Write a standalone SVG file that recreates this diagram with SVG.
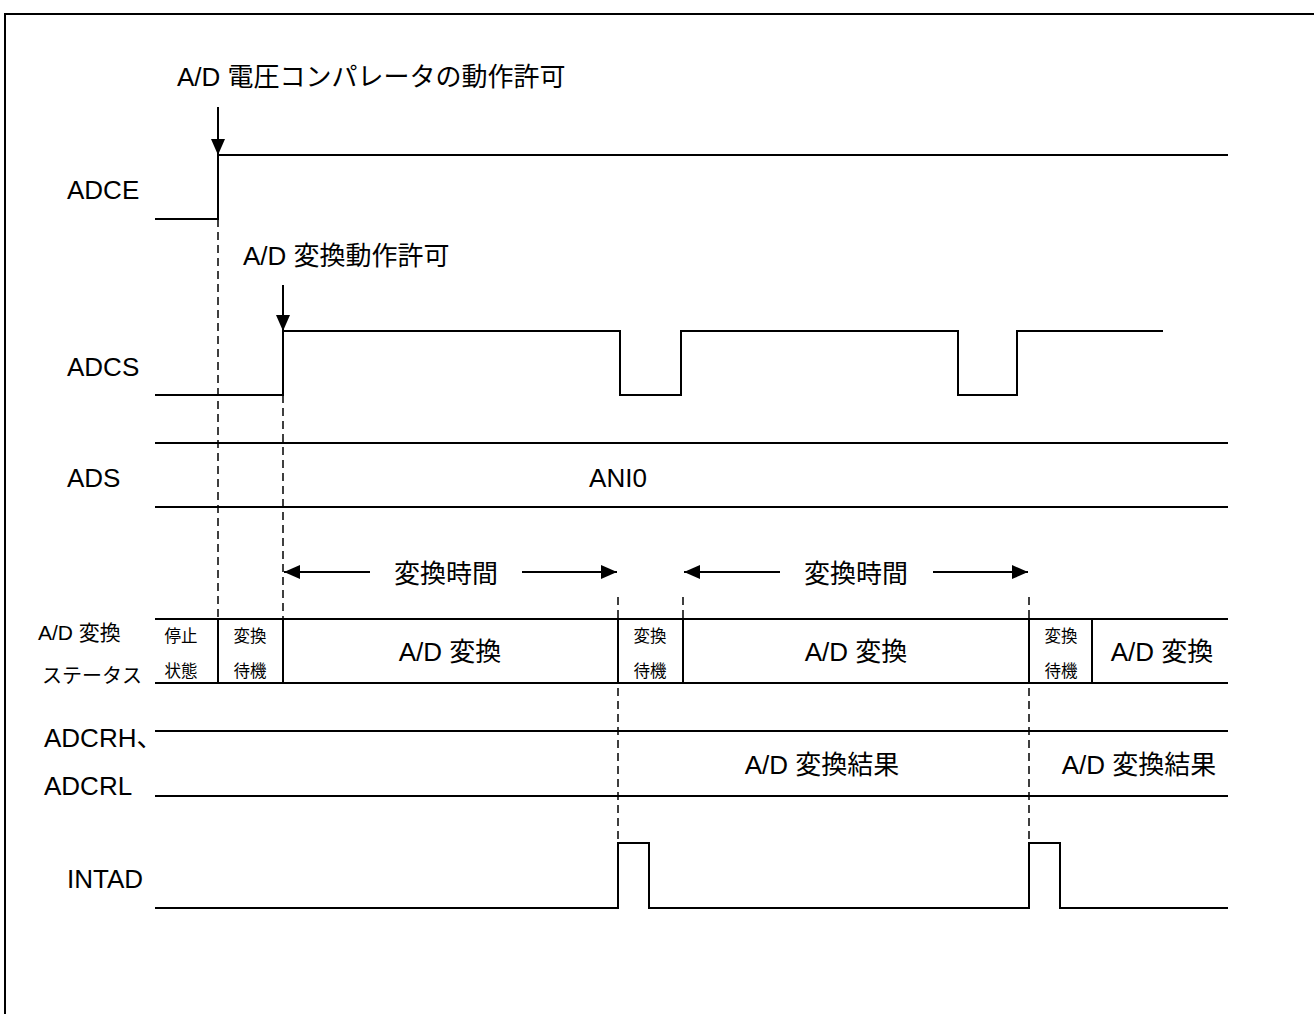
<svg xmlns="http://www.w3.org/2000/svg" width="1314" height="1014" viewBox="0 0 1314 1014">
<defs>
<style>
.w{fill:none;stroke:#000;stroke-width:2}
.d{fill:none;stroke:#000;stroke-width:1.5;stroke-dasharray:8,5}
.t{font-family:"Liberation Sans","Noto Sans CJK JP",sans-serif;fill:#000}
.L{font-size:26px}
.M{font-size:26px}
.S{font-size:16.5px}
</style>
<marker id="ah" viewBox="0 0 10 10" refX="10" refY="5" markerWidth="16" markerHeight="14" markerUnits="userSpaceOnUse" orient="auto" preserveAspectRatio="none">
<path d="M0,0 L10,5 L0,10 Z" fill="#000"/>
</marker>
</defs>
<rect width="1314" height="1014" fill="#fff"/>
<path d="M5,1014 V14 H1314" fill="none" stroke="#000" stroke-width="2"/>

<g id="connectors">
<line class="d" x1="218" y1="219" x2="218" y2="619"/>
<line class="d" x1="283" y1="395" x2="283" y2="619"/>
<line class="d" x1="618" y1="597" x2="618" y2="843"/>
<line class="d" x1="683" y1="597" x2="683" y2="619"/>
<line class="d" x1="1029" y1="597" x2="1029" y2="843"/>
<line class="w" x1="218" y1="107" x2="218" y2="155" marker-end="url(#ah)"/>
<line class="w" x1="283" y1="285" x2="283" y2="331" marker-end="url(#ah)"/>
<line class="w" x1="370" y1="572" x2="284" y2="572" marker-end="url(#ah)"/>
<line class="w" x1="522" y1="572" x2="617" y2="572" marker-end="url(#ah)"/>
<line class="w" x1="780" y1="572" x2="684" y2="572" marker-end="url(#ah)"/>
<line class="w" x1="933" y1="572" x2="1028" y2="572" marker-end="url(#ah)"/>
</g>

<g id="title">
<text class="t L" x="177" y="86">A/D 電圧コンパレータの動作許可</text>
<text class="t L" x="243" y="265">A/D 変換動作許可</text>
</g>

<g id="ADCE">
<text class="t L" x="67" y="199">ADCE</text>
<polyline class="w" points="155,219 218,219 218,155 1228,155"/>
</g>

<g id="ADCS">
<text class="t L" x="67" y="376">ADCS</text>
<polyline class="w" points="155,395 283,395 283,331 620,331 620,395 681,395 681,331 958,331 958,395 1017,395 1017,331 1163,331"/>
</g>

<g id="ADS">
<text class="t L" x="67" y="487">ADS</text>
<line class="w" x1="155" y1="443" x2="1228" y2="443"/>
<line class="w" x1="155" y1="507" x2="1228" y2="507"/>
<text class="t L" x="618" y="487" text-anchor="middle">ANI0</text>
</g>

<g id="time-labels">
<text class="t L" x="446" y="583" text-anchor="middle">変換時間</text>
<text class="t L" x="856" y="583" text-anchor="middle">変換時間</text>
</g>

<g id="status">
<text class="t" x="38" y="640" style="font-size:21px">A/D 変換</text>
<text class="t" x="42" y="683" style="font-size:20px">ステータス</text>
<line class="w" x1="155" y1="619" x2="1228" y2="619"/>
<line class="w" x1="155" y1="683" x2="1228" y2="683"/>
<line class="w" x1="218" y1="619" x2="218" y2="683"/>
<line class="w" x1="283" y1="619" x2="283" y2="683"/>
<line class="w" x1="618" y1="619" x2="618" y2="683"/>
<line class="w" x1="683" y1="619" x2="683" y2="683"/>
<line class="w" x1="1029" y1="619" x2="1029" y2="683"/>
<line class="w" x1="1092" y1="619" x2="1092" y2="683"/>
<text class="t S" x="181" y="642" text-anchor="middle">停止</text>
<text class="t S" x="181" y="677" text-anchor="middle">状態</text>
<text class="t S" x="250" y="642" text-anchor="middle">変換</text>
<text class="t S" x="250" y="677" text-anchor="middle">待機</text>
<text class="t M" x="450" y="661" text-anchor="middle">A/D 変換</text>
<text class="t S" x="650" y="642" text-anchor="middle">変換</text>
<text class="t S" x="650" y="677" text-anchor="middle">待機</text>
<text class="t M" x="856" y="661" text-anchor="middle">A/D 変換</text>
<text class="t S" x="1061" y="642" text-anchor="middle">変換</text>
<text class="t S" x="1061" y="677" text-anchor="middle">待機</text>
<text class="t M" x="1162" y="661" text-anchor="middle">A/D 変換</text>
</g>

<g id="ADCR">
<text class="t L" x="44" y="747">ADCRH、</text>
<text class="t L" x="44" y="795">ADCRL</text>
<line class="w" x1="155" y1="731" x2="1228" y2="731"/>
<line class="w" x1="155" y1="796" x2="1228" y2="796"/>
<text class="t M" x="822" y="774" text-anchor="middle">A/D 変換結果</text>
<text class="t M" x="1139" y="774" text-anchor="middle">A/D 変換結果</text>
</g>

<g id="INTAD">
<text class="t L" x="67" y="888">INTAD</text>
<polyline class="w" points="155,908 618,908 618,843 649,843 649,908 1029,908 1029,843 1060,843 1060,908 1228,908"/>
</g>
</svg>
